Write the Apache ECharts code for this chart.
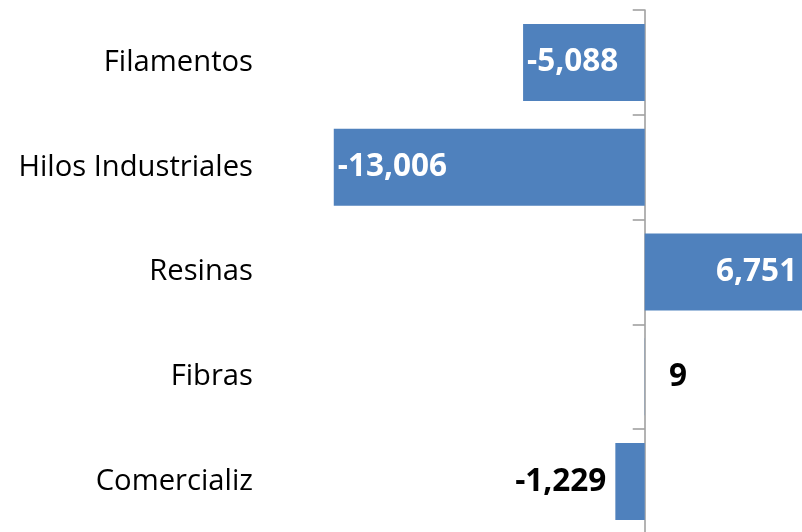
<!DOCTYPE html>
<html>
<head>
<meta charset="utf-8">
<script src="https://cdn.jsdelivr.net/npm/echarts@6/dist/echarts.min.js"></script>
<style>
  html, body { margin: 0; padding: 0; background: #fff; }
  #bar { width: 802px; height: 532px; }
</style>
</head>
<body>
<div id="bar"></div>
<script>
let categories = ['Filamentos', 'Hilos Industriales', 'Resinas', 'Fibras', 'Comercializ']
let values = [-5088, -13006, 6751, 9, -1229]

let barChart = echarts.init(document.getElementById('bar'))

function fmt(v) {
  return v.toLocaleString('en-US')
}

// big bars get a white label inside, small ones a black label outside
function createBarData() {
  let arr = []
  values.forEach(v => {
    let big = Math.abs(v) > 3000
    let label
    if (big) {
      label = { position: v < 0 ? 'insideLeft' : 'insideRight', color: '#fff', distance: v < 0 ? 4 : 9 }
    } else {
      label = { position: v < 0 ? 'left' : 'right', color: '#000', distance: v < 0 ? 9 : 24 }
    }
    arr.push({ value: v, label: label })
  })
  return arr
}

let barOption = {
  animation: false,
  grid: { left: 310, right: -34, top: 10, bottom: -2, containLabel: false, outerBoundsMode: 'none' },
  xAxis: {
    type: 'value',
    min: -14000,
    max: 8000,
    show: false,
    splitLine: { show: false }
  },
  yAxis: {
    type: 'category',
    inverse: true,
    data: categories,
    axisLine: { show: true, onZero: true, lineStyle: { color: '#9a9a9a', width: 1.5 } },
    axisTick: { show: true, length: 12, lineStyle: { color: '#9a9a9a', width: 1.5 } },
    axisLabel: {
      margin: 57, // labels sit off the grid's left edge, not the zero line
      color: '#000',
      fontFamily: 'Open Sans',
      fontSize: 29.2
    }
  },
  series: [
    {
      type: 'bar',
      barWidth: 77,
      itemStyle: { color: '#4f81bd' },
      label: {
        show: true,
        fontFamily: 'Open Sans',
        fontWeight: 'bold',
        fontSize: 31.5,
        formatter: p => fmt(p.value)
      },
      data: createBarData()
    }
  ]
}
barChart.setOption(barOption)
</script>
</body>
</html>
